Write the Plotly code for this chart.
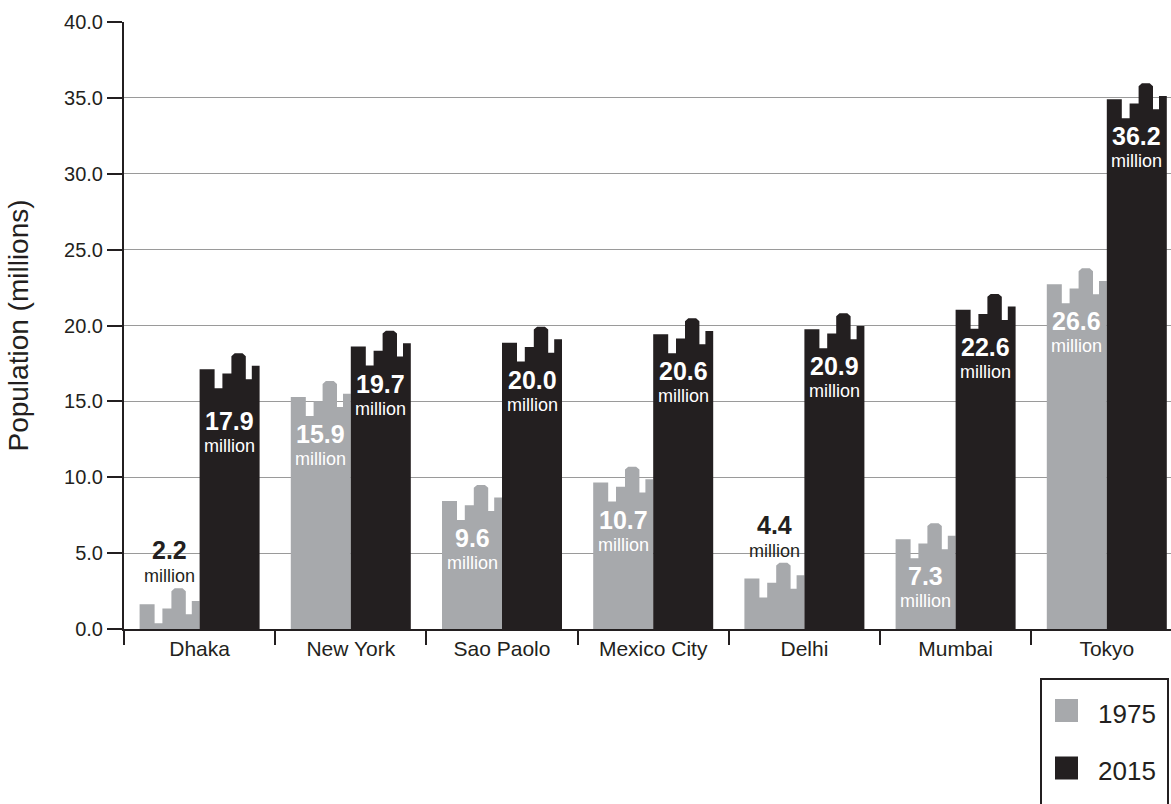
import plotly.graph_objects as go

# ---------------- data ----------------
cities = ["Dhaka", "New York", "Sao Paolo", "Mexico City", "Delhi", "Mumbai", "Tokyo"]
labels_1975 = [2.2, 15.9, 9.6, 10.7, 4.4, 7.3, 26.6]
labels_2015 = [17.9, 19.7, 20.0, 20.6, 20.9, 22.6, 36.2]
# drawn heights of the skyline tops (highest roof)
heights_1975 = [2.68, 16.34, 9.49, 10.70, 4.37, 6.97, 23.77]
heights_2015 = [18.17, 19.66, 19.92, 20.47, 20.80, 22.08, 35.96]
years = ["1975", "2015"]
yticks = [0, 5, 10, 15, 20, 25, 30, 35, 40]

# ---------------- style ----------------
BLACK = "#231f20"
GREY = "#a7a9ac"
GRID = "#9a9a9a"
FONT = "Liberation Sans, Arial, Helvetica, sans-serif"

W, H = 1171, 804
ML, MT, MB = 124, 22, 175
PLOT_W = W - ML
PLOT_H = H - MT - MB
CAT_PX = 151.2
X_MAX = -0.5 + PLOT_W / CAT_PX
BAR_W = 60 / CAT_PX

# skyline profile: (fraction of bar width, drop below roof peak in data units)
profile = [
    (0.00, -1.05), (0.25, -1.05),
    (0.25, -2.30), (0.38, -2.30),
    (0.38, -1.33), (0.53, -1.33),
    (0.53, -0.19), (0.585, 0.0), (0.715, 0.0), (0.77, -0.19),
    (0.77, -1.71), (0.87, -1.71),
    (0.87, -0.83), (1.00, -0.83),
]


def skyline(heights, side):
    xs, ys = [], []
    for i, h in enumerate(heights):
        x0 = i + (-BAR_W if side == 0 else 0.0)
        xs.append(x0)
        ys.append(0)
        for f, d in profile:
            xs.append(x0 + f * BAR_W)
            ys.append(max(h + d, 0))
        xs.append(x0 + BAR_W)
        ys.append(0)
        xs.append(x0)
        ys.append(0)
        xs.append(None)
        ys.append(None)
    return xs, ys


fig = go.Figure()
for side, (hts, col, yr) in enumerate([(heights_1975, GREY, years[0]),
                                        (heights_2015, BLACK, years[1])]):
    xs, ys = skyline(hts, side)
    fig.add_trace(go.Scatter(x=xs, y=ys, mode="lines", fill="toself",
                             fillcolor=col, line=dict(width=0, color=col),
                             name=yr, showlegend=False, hoverinfo="skip"))

# ---------------- value labels ----------------
annotations = []
outside_1975 = {0, 4}  # bars too short: label above in black
extra_gap_2015 = {0: 15}
for series, (labs, hts) in enumerate([(labels_1975, heights_1975),
                                      (labels_2015, heights_2015)]):
    for i, (v, h) in enumerate(zip(labs, hts)):
        xc = i + (-BAR_W / 2 if series == 0 else BAR_W / 2)
        if series == 0 and i in outside_1975:
            col, s_num, s_mil = BLACK, 38, 12
        else:
            extra = extra_gap_2015.get(i, 0) if series == 1 else 0
            col, s_num, s_mil = "white", -53 - extra, -78 - extra
        annotations.append(dict(x=xc, y=h, xref="x", yref="y", yshift=s_num,
                                text="<b>%.1f</b>" % v, showarrow=False,
                                font=dict(family=FONT, size=25, color=col),
                                xanchor="center", yanchor="middle"))
        annotations.append(dict(x=xc, y=h, xref="x", yref="y", yshift=s_mil,
                                text="million", showarrow=False,
                                font=dict(family=FONT, size=18, color=col),
                                xanchor="center", yanchor="middle"))


# ---------------- manual legend (pixel -> paper helpers) ----------------
def px(xp):
    return (xp - ML) / PLOT_W


def py(yp):
    return (H - MB - yp) / PLOT_H


shapes = [
    dict(type="rect", xref="paper", yref="paper", x0=px(1041), x1=px(1168),
         y0=py(815), y1=py(679), line=dict(color=BLACK, width=2),
         fillcolor="white", layer="above"),
]
for k, (yr, col) in enumerate(zip(years, [GREY, BLACK])):
    yc = 710.5 + k * 57.5
    shapes.append(dict(type="rect", xref="paper", yref="paper",
                       x0=px(1055), x1=px(1078), y0=py(yc + 11.5), y1=py(yc - 11.5),
                       line=dict(width=0), fillcolor=col, layer="above"))
    annotations.append(dict(xref="paper", yref="paper", x=px(1096), y=py(yc + 3),
                            text=yr, showarrow=False, xanchor="left", yanchor="middle",
                            font=dict(family=FONT, size=26, color=BLACK)))

fig.update_layout(
    width=W, height=H,
    margin=dict(l=ML, r=0, t=MT, b=MB, autoexpand=False),
    paper_bgcolor="white", plot_bgcolor="white",
    font=dict(family=FONT, color=BLACK),
    showlegend=False,
    shapes=shapes,
    annotations=annotations,
    xaxis=dict(
        range=[-0.5, X_MAX], tickmode="array", tickvals=list(range(len(cities))),
        ticktext=cities, ticks="", showgrid=False, zeroline=False,
        showline=True, linecolor=BLACK, linewidth=2,
        tickfont=dict(family=FONT, size=21, color=BLACK),
        minor=dict(tickmode="array",
                   tickvals=[i - 0.5 for i in range(len(cities))],
                   ticks="outside", ticklen=14, tickwidth=2, tickcolor=BLACK,
                   showgrid=False),
        fixedrange=True,
    ),
    yaxis=dict(
        range=[0, 40], tickmode="array", tickvals=yticks,
        ticktext=["%.1f" % t for t in yticks],
        ticks="outside", ticklen=15, tickwidth=2, tickcolor=BLACK,
        showline=True, linecolor=BLACK, linewidth=2,
        showgrid=True, gridcolor=GRID, gridwidth=1, zeroline=False,
        tickfont=dict(family=FONT, size=20, color=BLACK),
        title=dict(text="Population (millions)", standoff=27,
                   font=dict(family=FONT, size=28, color=BLACK)),
        fixedrange=True,
    ),
)

fig.write_html("out.html")
